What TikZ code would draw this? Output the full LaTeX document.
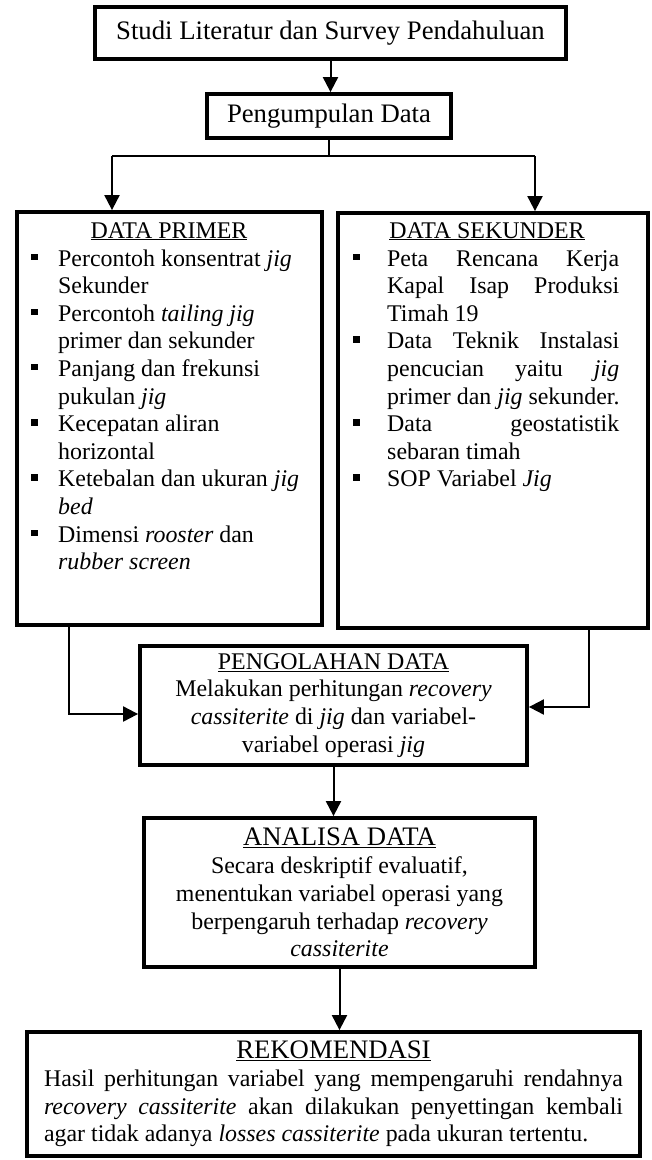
\documentclass[tikz,border=0pt]{standalone}
\usepackage{fontspec}
\setmainfont{Liberation Serif}
\usetikzlibrary{arrows.meta}
\newcommand\bodyf{\fontsize{23.9}{27.8}\selectfont}
\newcommand\bigf{\fontsize{26.7}{30}\selectfont}
\begin{document}
\begin{tikzpicture}[x=1pt,y=-1pt,
  box/.style={draw, line width=3.8pt, inner sep=0pt, align=center, font=\bodyf},
  arr/.style={line width=2pt, -{Triangle[width=15pt,length=15pt]}},
  ln/.style={line width=2pt},
  txt/.style={inner sep=0pt, font=\bodyf, anchor=base west},
  head/.style={inner sep=0pt, font=\bodyf, anchor=base},
]
\useasboundingbox (0,0) rectangle (651,1160);

% boxes
\node[box, line width=4.3pt, minimum width=471pt, minimum height=52pt, font=\bigf] (studi) at (330.5,33) {Studi Literatur dan Survey Pendahuluan};
\node[box, minimum width=244pt, minimum height=44pt, font=\bigf] (peng) at (329,116) {Pengumpulan Data};
\node[box, minimum width=305pt, minimum height=413pt] (primer) at (169.5,418.5) {};
\node[box, minimum width=310pt, minimum height=415pt] (sekunder) at (493,420.5) {};
\node[box, minimum width=387pt, minimum height=119pt] (olah) at (333.5,705.5)
  {\underline{PENGOLAHAN DATA}\\ Melakukan perhitungan \textit{recovery}\\ \textit{cassiterite} di \textit{jig} dan variabel-\\ variabel operasi \textit{jig}};
\node[box, minimum width=391pt, minimum height=149pt] (analisa) at (339.5,892.5)
  {{\bigf\underline{ANALISA DATA}}\\ Secara deskriptif evaluatif,\\ menentukan variabel operasi yang\\ berpengaruh terhadap \textit{recovery}\\ \textit{cassiterite}};
\node[box, minimum width=613pt, minimum height=124pt] (rekom) at (333.5,1094)
  {{\bigf\underline{REKOMENDASI}}\\
   \makebox[579pt][s]{Hasil perhitungan variabel yang mempengaruhi rendahnya}\\
   \makebox[579pt][s]{\textit{recovery cassiterite} akan dilakukan penyettingan kembali}\\
   \makebox[579pt][l]{agar tidak adanya \textit{losses cassiterite} pada ukuran tertentu.}};

% DATA PRIMER content
\node[head] (phead) at (169,238) {\underline{DATA PRIMER}};
\foreach \t [count=\i] in {{Percontoh konsentrat \textit{jig}}, {Sekunder}, {Percontoh \textit{tailing jig}}, {primer dan sekunder}, {Panjang dan frekunsi}, {pukulan \textit{jig}}, {Kecepatan aliran}, {horizontal}, {Ketebalan dan ukuran \textit{jig}}, {\textit{bed}}, {Dimensi \textit{rooster} dan}, {\textit{rubber screen}}}
  \node[txt] (pl\i) at (58, 238.4+27.6*\i) {\t};
\foreach \i in {1,3,5,7,9,11}
  \fill (31, 238.4+27.6*\i-12.5) rectangle ++(6.5,6.5);

% DATA SEKUNDER content
\node[head] (shead) at (487,238) {\underline{DATA SEKUNDER}};
\foreach \t [count=\i] in {{\makebox[232pt][s]{Peta Rencana Kerja}}, {\makebox[232pt][s]{Kapal Isap Produksi}}, {Timah 19}, {\makebox[232pt][s]{Data Teknik Instalasi}}, {\makebox[232pt][s]{pencucian yaitu \textit{jig}}}, {primer dan \textit{jig} sekunder.}, {\makebox[232pt][s]{Data geostatistik}}, {sebaran timah}, {SOP Variabel \textit{Jig}}}
  \node[txt] (sl\i) at (387, 238.4+27.6*\i) {\t};
\foreach \i in {1,4,7,9}
  \fill (353, 238.4+27.6*\i-12.5) rectangle ++(6.5,6.5);

% connectors
\draw[arr] (studi.south) -- (studi.south |- peng.north);
\coordinate (jl) at (112,156);
\coordinate (jr) at (535,156);
\draw[ln] (peng.south) -- (peng.south |- jl);
\draw[ln] (jl) -- (jr);
\draw[arr] (jl) -- (jl |- primer.north);
\draw[arr] (jr) -- (jr |- sekunder.north);
\coordinate (lc) at (69,714);
\coordinate (rc) at (589,707);
\draw[arr] (lc |- primer.south) -- (lc) -- (lc -| olah.west);
\draw[arr] (rc |- sekunder.south) -- (rc) -- (rc -| olah.east);
\draw[arr] (olah.south) -- (olah.south |- analisa.north);
\draw[arr] (analisa.south) -- (analisa.south |- rekom.north);
\end{tikzpicture}
\end{document}
